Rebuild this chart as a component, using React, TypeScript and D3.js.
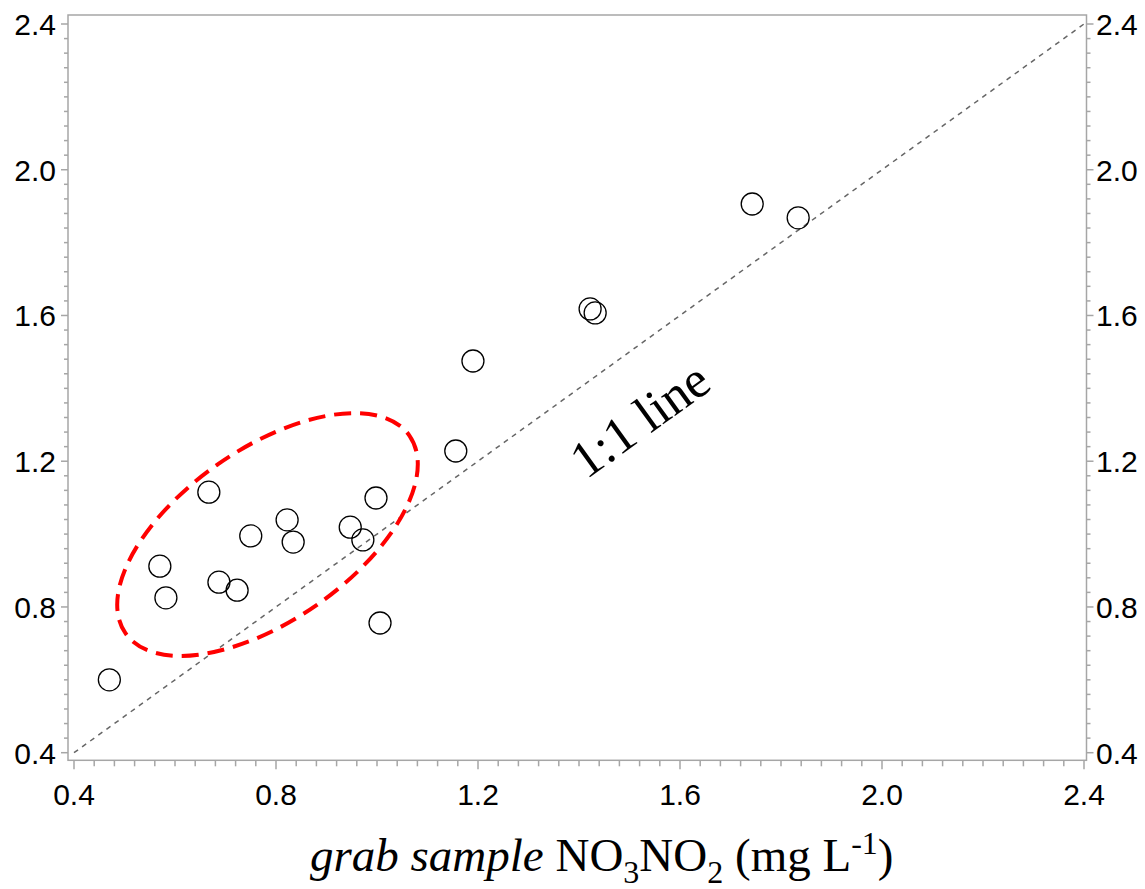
import React from 'react';
import * as d3 from 'd3';

// grab sample vs. sensor NO3NO2 (mg/L)
const grabValues = [0.47, 0.57, 0.582, 0.667, 0.687, 0.723, 0.75, 0.822, 0.834, 0.947, 0.972, 0.998, 1.006, 1.156, 1.19, 1.422, 1.432, 1.743, 1.834];
const sensorValues = [0.6, 0.912, 0.825, 1.115, 0.868, 0.846, 0.995, 1.039, 0.978, 1.019, 0.984, 1.099, 0.756, 1.228, 1.475, 1.618, 1.607, 1.906, 1.868];
const majorTicks = [0.4, 0.8, 1.2, 1.6, 2.0, 2.4];
const axisDomain = [0.4, 2.4];
const lineLabel = '1:1 line';

const W = 1145;
const H = 889;
const frame = { left: 68, right: 1086.5, top: 15, bottom: 760.3 };

const App = () => {
    const x = d3.scaleLinear().domain(axisDomain).range([74, 1084]);
    const y = d3.scaleLinear().domain(axisDomain).range([752.7, 24]);
    const fmt = d3.format('.1f');
    const minorTicks = d3.range(0, 51).map(i => +(0.4 + i * 0.04).toFixed(2));
    const isMajor = (v) => majorTicks.some(m => Math.abs(m - v) < 1e-6);
    const axisColor = '#a6a6a6';
    const sans = '"Liberation Sans", Arial, sans-serif';
    const serif = '"Liberation Serif", "Times New Roman", serif';

    // 1:1 line angle on screen
    const angle = Math.atan2(y(2.4) - y(0.4), x(2.4) - x(0.4)) * 180 / Math.PI;

    return (
        <svg width={W} height={H} style={{ position: 'absolute', left: 0, top: 0 }}>
            <rect x={0} y={0} width={W} height={H} fill="#fff" />

            {/* 1:1 reference line */}
            <line x1={x(0.4)} y1={y(0.4)} x2={x(2.4)} y2={y(2.4)}
                stroke="#666" strokeWidth={1.5} strokeDasharray="5,5" />

            {/* highlighted cluster */}
            <ellipse cx={267.5} cy={534.5} rx={173} ry={86}
                transform={`rotate(-34.8, 267.5, 534.5)`}
                fill="none" stroke="#ff0000" strokeWidth={4} strokeDasharray="17,9" />

            {/* frame */}
            <rect x={frame.left} y={frame.top} width={frame.right - frame.left} height={frame.bottom - frame.top}
                fill="none" stroke={axisColor} strokeWidth={1.5} />

            {/* bottom ticks */}
            {minorTicks.map(v => (
                <line key={'xb' + v} x1={x(v)} x2={x(v)} y1={frame.bottom} y2={frame.bottom + (isMajor(v) ? 9 : 6)}
                    stroke={axisColor} strokeWidth={1.5} />
            ))}
            {/* left ticks */}
            {minorTicks.map(v => (
                <line key={'yl' + v} x1={frame.left} x2={frame.left - (isMajor(v) ? 7 : 4)} y1={y(v)} y2={y(v)}
                    stroke={axisColor} strokeWidth={1.5} />
            ))}
            {/* right ticks */}
            {minorTicks.map(v => (
                <line key={'yr' + v} x1={frame.right} x2={frame.right + (isMajor(v) ? 7 : 4)} y1={y(v)} y2={y(v)}
                    stroke={axisColor} strokeWidth={1.5} />
            ))}

            {majorTicks.map(v => (
                <text key={'xl' + v} x={x(v)} y={805} textAnchor="middle" fontFamily={sans} fontSize={30} fill="#000">{fmt(v)}</text>
            ))}
            {majorTicks.map(v => (
                <text key={'yl' + v} x={56} y={y(v)} dy="0.36em" textAnchor="end" fontFamily={sans} fontSize={30} fill="#000">{fmt(v)}</text>
            ))}
            {majorTicks.map(v => (
                <text key={'yr' + v} x={1096} y={y(v)} dy="0.36em" textAnchor="start" fontFamily={sans} fontSize={30} fill="#000">{fmt(v)}</text>
            ))}

            {/* points */}
            {grabValues.map((g, i) => (
                <circle key={i} cx={x(g)} cy={y(sensorValues[i])} r={11}
                    fill="none" stroke="#000" strokeWidth={1.3} />
            ))}

            <text transform={`translate(650, 434) rotate(${angle})`} textAnchor="middle"
                fontFamily={serif} fontSize={52} fill="#000">{lineLabel}</text>

            <text x={310} y={871} fontFamily={serif} fontSize={47} fill="#000">
                <tspan fontStyle="italic">grab sample</tspan>
                <tspan> NO</tspan>
                <tspan fontSize={32} dy={12}>3</tspan>
                <tspan dy={-12}>NO</tspan>
                <tspan fontSize={32} dy={12}>2</tspan>
                <tspan dy={-12}> (mg L</tspan>
                <tspan fontSize={32} dy={-17}>-1</tspan>
                <tspan dy={17}>)</tspan>
            </text>
        </svg>
    );
};

export default App;
